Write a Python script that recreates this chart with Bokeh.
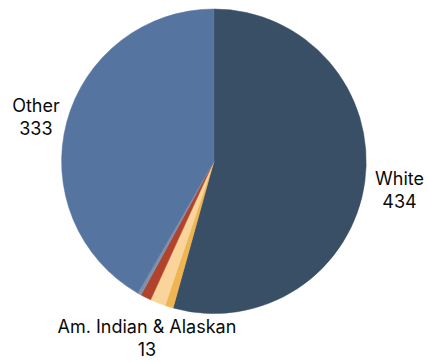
import math
from bokeh.plotting import figure
from bokeh.models import ColumnDataSource, Range1d
from bokeh.core.properties import value
from bokeh.embed import file_html
from bokeh.resources import INLINE

# Data
categories = ["White", "Asian", "Am. Indian & Alaskan", "Black", "Pacific Islander", "Other"]
counts = [434, 7, 13, 9, 3, 333]
colors = ["#384f66", "#f0b553", "#f9d49b", "#b1432c", "#7f90aa", "#5674a0"]
label_min = 10

W, H = 428, 363
cx, cy = 213.4, H - 160.8
R = 152.3

total = float(sum(counts))
starts, ends, mids = [], [], []
cum = 0.0
for v in counts:
    a0 = math.pi / 2 - 2 * math.pi * cum / total
    cum += v
    a1 = math.pi / 2 - 2 * math.pi * cum / total
    starts.append(a0)
    ends.append(a1)
    mids.append((a0 + a1) / 2)

src = ColumnDataSource(dict(cat=categories, val=counts, color=colors,
                            start=starts, end=ends))

p = figure(width=W, height=H, x_range=Range1d(0, W), y_range=Range1d(0, H),
           output_backend="svg", toolbar_location=None,
           x_axis_location=None, y_axis_location=None, min_border=0)
p.grid.visible = False
p.outline_line_color = None
p.background_fill_color = "white"
p.border_fill_color = "white"

p.wedge(x=cx, y=cy, radius=R, start_angle="start", end_angle="end",
        direction="clock", fill_color="color", line_color="color",
        line_width=0.5, source=src)

lx, ly1, ly2, t1, t2 = [], [], [], [], []
for c, v, m in zip(categories, counts, mids):
    if v < label_min:
        continue
    rr = R * 1.22
    x = cx + rr * math.cos(m) + 1.5
    y = cy + rr * math.sin(m) - 3.5
    lx.append(x)
    ly1.append(y + 11.5)
    ly2.append(y - 11.5)
    t1.append(c)
    t2.append(str(v))

lsrc = ColumnDataSource(dict(x=lx, y1=ly1, y2=ly2, t1=t1, t2=t2))
for ycol, tcol in (("y1", "t1"), ("y2", "t2")):
    p.text(x="x", y=ycol, text=tcol, source=lsrc, text_align="center",
           text_baseline="middle", text_font=value("Inter"),
           text_font_size="18px", text_color="#0a0a0a")

open("out.html", "w").write(file_html(p, INLINE))
